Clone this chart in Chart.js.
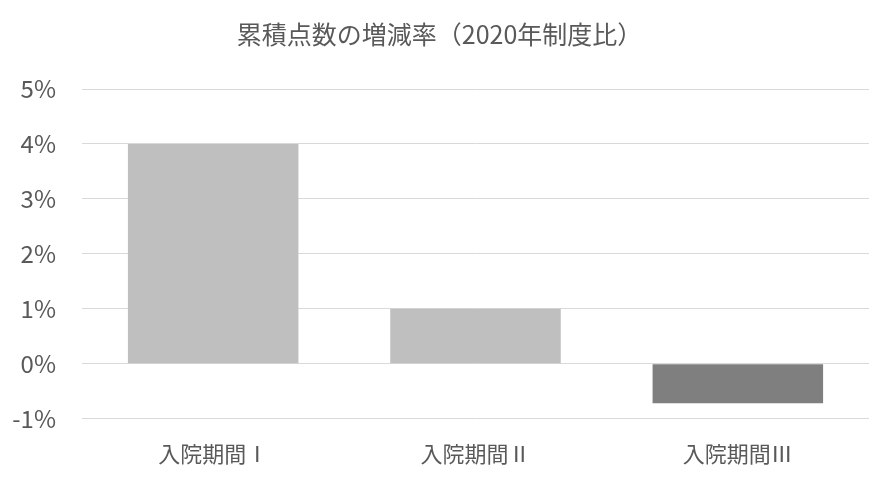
<!DOCTYPE html>
<html>
<head>
<meta charset="utf-8">
<script src="https://cdn.jsdelivr.net/npm/chart.js@4"></script>
<style>
  html, body { margin: 0; padding: 0; background: #ffffff; }
  #wrap { width: 886px; height: 489px; }
</style>
</head>
<body>
<div id="wrap"><canvas id="chart" width="886" height="489"></canvas></div>
<script>
// data
const categories = ["入院期間Ⅰ", "入院期間Ⅱ", "入院期間Ⅲ"];
const changeRates = [4.0, 1.0, -0.72];   // %
const yTicks = [-1, 0, 1, 2, 3, 4, 5];

const font = '"Noto Sans CJK JP", "Noto Sans", sans-serif';

const barColors = changeRates.map(v => v < 0 ? "#7F7F7F" : "#BFBFBF");

const chart = new Chart(document.getElementById("chart"), {
    type: "bar",
    data: {
        labels: categories,
        datasets: [{
            data: changeRates,
            backgroundColor: barColors,
            borderWidth: 0,
            categoryPercentage: 1.0,
            barPercentage: 0.65
        }]
    },
    options: {
        responsive: false,
        animation: false,
        layout: { padding: { left: 10, right: 17, top: 8, bottom: 0 } },
        plugins: {
            legend: { display: false },
            tooltip: { enabled: false },
            title: {
                display: true,
                text: "累積点数の増減率（2020年制度比）",
                color: "#595959",
                font: { family: font, size: 25, weight: "normal" },
                padding: { top: 11, bottom: 40 }
            }
        },
        scales: {
            x: {
                grid: { display: false, drawTicks: false },
                border: { display: false },
                ticks: {
                    color: "#595959",
                    font: { family: font, size: 22 },
                    padding: 22
                }
            },
            y: {
                min: yTicks[0],
                max: yTicks[yTicks.length - 1],
                afterBuildTicks: axis => { axis.ticks = yTicks.map(v => ({ value: v })); },
                afterFit: axis => { axis.width = 72; },
                grid: { color: "#D9D9D9", lineWidth: 1, drawTicks: false },
                border: { display: false },
                ticks: {
                    color: "#595959",
                    font: { family: font, size: 24 },
                    padding: 26,
                    callback: v => v + "%"
                }
            }
        }
    }
});
</script>
</body>
</html>
